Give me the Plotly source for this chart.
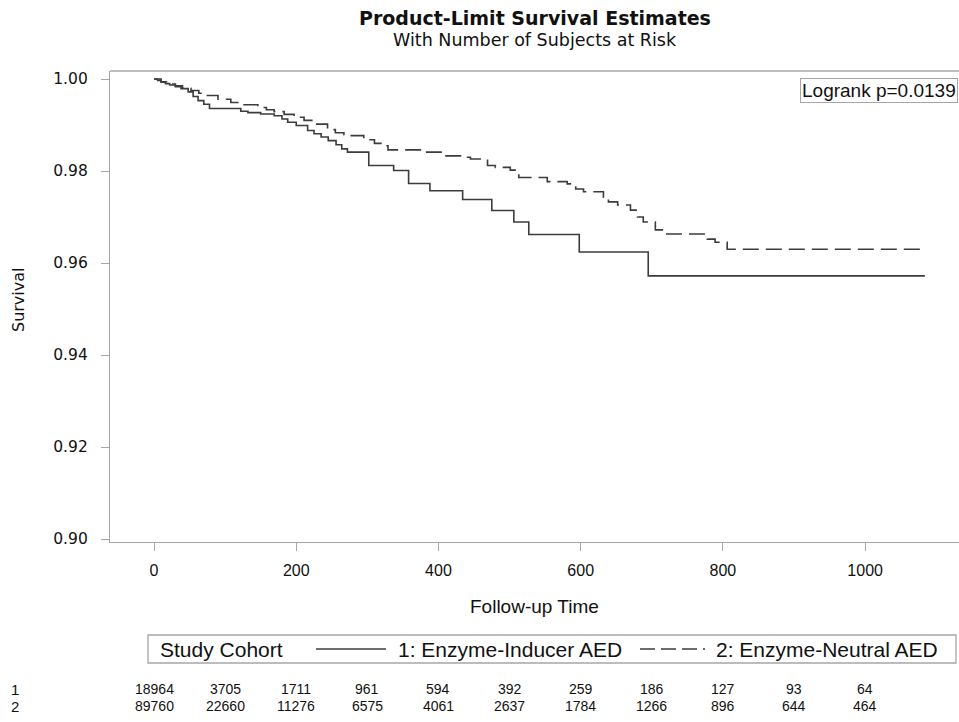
import plotly.graph_objects as go

# ---- data ----
inducer_time = [0, 5, 10, 16, 22, 30, 38, 48, 55, 62, 70, 78, 122, 132, 150, 169, 180, 188,
                200, 216, 225, 235, 245, 256, 264, 272, 302, 337, 358, 388, 434, 475, 506,
                527, 598, 695, 1084]
inducer_surv = [1.0, 0.9997, 0.9993, 0.9990, 0.9987, 0.9983, 0.9979, 0.9972, 0.9962, 0.9953,
                0.9945, 0.9936, 0.9930, 0.9927, 0.9924, 0.9920, 0.9913, 0.9906, 0.9899, 0.9888,
                0.9881, 0.9874, 0.9866, 0.9857, 0.9848, 0.9841, 0.9812, 0.9801, 0.9773, 0.9757,
                0.9738, 0.9714, 0.9689, 0.9662, 0.9624, 0.9572, 0.9572]

neutral_time = [0, 10, 20, 30, 40, 52, 63, 75, 90, 108, 125, 146, 158, 169, 183, 197, 211,
                225, 244, 255, 267, 295, 310, 319, 329, 379, 407, 431, 445, 469, 480, 501, 513,
                553, 581, 593, 604, 632, 639, 652, 670, 680, 688, 705, 716, 778, 789, 806, 1084]
neutral_surv = [1.0, 0.9994, 0.9989, 0.9985, 0.9980, 0.9975, 0.9969, 0.9964, 0.9956, 0.9949,
                0.9944, 0.9938, 0.9933, 0.9929, 0.9923, 0.9917, 0.9910, 0.9902, 0.9890, 0.9883,
                0.9877, 0.9868, 0.9860, 0.9855, 0.9846, 0.9841, 0.9833, 0.9830, 0.9826, 0.9812,
                0.9808, 0.9802, 0.9786, 0.9777, 0.9772, 0.9761, 0.9755, 0.9743, 0.9733, 0.9726,
                0.9715, 0.9700, 0.9689, 0.9672, 0.9663, 0.9652, 0.9645, 0.9630, 0.9630]

risk_times = [0, 100, 200, 300, 400, 500, 600, 700, 800, 900, 1000]
risk_group1 = [18964, 3705, 1711, 961, 594, 392, 259, 186, 127, 93, 64]
risk_group2 = [89760, 22660, 11276, 6575, 4061, 2637, 1784, 1266, 896, 644, 464]
group_labels = ["1", "2"]
series_names = ["1: Enzyme-Inducer AED", "2: Enzyme-Neutral AED"]
legend_title = "Study Cohort"

x_ticks = [0, 200, 400, 600, 800, 1000]
y_ticks = [0.90, 0.92, 0.94, 0.96, 0.98, 1.00]

FONT = "Liberation Sans, Arial, sans-serif"
WIDE = "DejaVu Sans, Verdana, sans-serif"
AXIS_GREY = "#a6a6a6"
LINE = "#3c3c3c"
TXT = "#111111"
DASH = "16px,7px"

fig = go.Figure()
fig.add_trace(go.Scatter(x=inducer_time, y=inducer_surv, mode="lines", line_shape="hv",
                         name=series_names[0], showlegend=False,
                         line=dict(color=LINE, width=1.6)))
fig.add_trace(go.Scatter(x=neutral_time, y=neutral_surv, mode="lines", line_shape="hv",
                         name=series_names[1], showlegend=False,
                         line=dict(color=LINE, width=1.6, dash=DASH)))

W, H = 959, 722
L, R, T, B = 110, 0, 71, 180
pw, ph = W - L - R, H - T - B


def px_x(p):
    return (p - L) / pw


def px_y(p):
    return (H - B - p) / ph


annotations = [
    dict(text="<b>Product-Limit Survival Estimates</b>", xref="paper", yref="paper",
         x=0.5, y=px_y(18), xanchor="center", yanchor="middle", showarrow=False,
         font=dict(family=WIDE, size=19, color=TXT)),
    dict(text="With Number of Subjects at Risk", xref="paper", yref="paper",
         x=0.5, y=px_y(40), xanchor="center", yanchor="middle", showarrow=False,
         font=dict(family=WIDE, size=17.5, color=TXT)),
    dict(text="Survival", xref="paper", yref="paper", x=px_x(18), y=px_y(300), textangle=-90,
         xanchor="center", yanchor="middle", showarrow=False,
         font=dict(family=WIDE, size=16, color=TXT)),
    dict(text="Follow-up Time", xref="paper", yref="paper", x=0.5, y=px_y(606),
         xanchor="center", yanchor="middle", showarrow=False,
         font=dict(family=FONT, size=19, color=TXT)),
    dict(text="Logrank p=0.0139", xref="paper", yref="paper", x=px_x(958), y=px_y(90.5),
         xanchor="right", yanchor="middle", showarrow=False, bordercolor=AXIS_GREY,
         borderwidth=1, borderpad=1, bgcolor="white",
         font=dict(family=FONT, size=19, color=TXT)),
    # legend texts
    dict(text=legend_title, xref="paper", yref="paper", x=px_x(158), y=px_y(649),
         xanchor="left", yanchor="middle", showarrow=False,
         font=dict(family=FONT, size=21, color=TXT)),
    dict(text=series_names[0], xref="paper", yref="paper", x=px_x(396), y=px_y(649),
         xanchor="left", yanchor="middle", showarrow=False,
         font=dict(family=FONT, size=21, color=TXT)),
    dict(text=series_names[1], xref="paper", yref="paper", x=px_x(714), y=px_y(649),
         xanchor="left", yanchor="middle", showarrow=False,
         font=dict(family=FONT, size=21, color=TXT)),
]

for row_y, lab, vals in [(689, group_labels[0], risk_group1), (706, group_labels[1], risk_group2)]:
    annotations.append(dict(text=lab, xref="paper", yref="paper", x=px_x(15), y=px_y(row_y),
                            xanchor="center", yanchor="middle", showarrow=False,
                            font=dict(family=FONT, size=15, color=TXT)))
    for t, v in zip(risk_times, vals):
        annotations.append(dict(text=str(v), xref="x", yref="paper", x=t, y=px_y(row_y),
                                xanchor="center", yanchor="middle", showarrow=False,
                                font=dict(family=FONT, size=14, color=TXT)))

shapes = [
    # top frame line
    dict(type="line", xref="paper", yref="paper", x0=0, x1=1, y0=1, y1=1,
         line=dict(color=AXIS_GREY, width=1.3)),
    # legend frame
    dict(type="rect", xref="paper", yref="paper", x0=px_x(148), x1=px_x(956),
         y0=px_y(635), y1=px_y(663), line=dict(color=AXIS_GREY, width=1.3)),
    # legend samples
    dict(type="line", xref="paper", yref="paper", x0=px_x(316), x1=px_x(386),
         y0=px_y(649), y1=px_y(649), line=dict(color=LINE, width=1.6)),
    dict(type="line", xref="paper", yref="paper", x0=px_x(640), x1=px_x(705),
         y0=px_y(649), y1=px_y(649), line=dict(color=LINE, width=1.6, dash="15px,6px")),
]

fig.update_layout(
    width=W, height=H,
    margin=dict(l=L, r=R, t=T, b=B),
    paper_bgcolor="white", plot_bgcolor="white",
    showlegend=False,
    annotations=annotations,
    shapes=shapes,
    xaxis=dict(range=[-61.9, 1132], tickvals=x_ticks, showgrid=False, zeroline=False,
               showline=True, linecolor=AXIS_GREY, linewidth=1.3, ticks="outside", ticklen=8,
               tickcolor=AXIS_GREY, ticklabelstandoff=6,
               tickfont=dict(family=FONT, size=16, color=TXT)),
    yaxis=dict(range=[0.89935, 1.00174], tickvals=y_ticks, tickformat=".2f", showgrid=False,
               zeroline=False, showline=True, linecolor=AXIS_GREY, linewidth=1.3,
               ticks="outside", ticklen=8, tickcolor=AXIS_GREY, ticklabelstandoff=10,
               tickfont=dict(family=WIDE, size=15.5, color=TXT)),
)

fig.write_html("out.html", config={"displayModeBar": False},
               post_script="document.body.style.margin='0px';")
